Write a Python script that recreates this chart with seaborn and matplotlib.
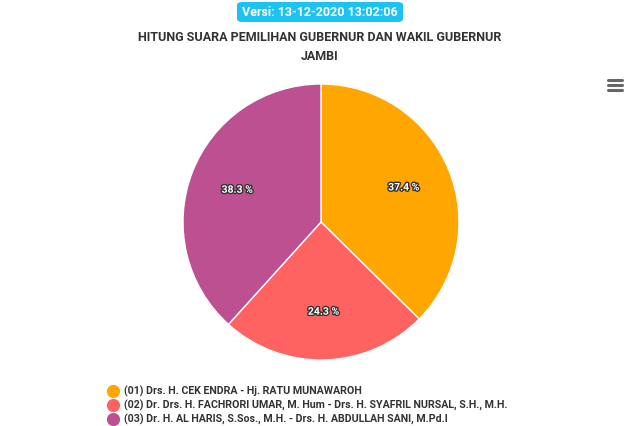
import matplotlib.pyplot as plt
import matplotlib.patheffects as pe
from matplotlib.lines import Line2D
from matplotlib.patches import FancyBboxPatch
import seaborn as sns

sns.set_theme(style="white")
plt.rcParams['font.family'] = ['Roboto', 'DejaVu Sans']

candidates = [
    "(01) Drs. H. CEK ENDRA - Hj. RATU MUNAWAROH",
    "(02) Dr. Drs. H. FACHRORI UMAR, M. Hum - Drs. H. SYAFRIL NURSAL, S.H., M.H.",
    "(03) Dr. H. AL HARIS, S.Sos., M.H. - Drs. H. ABDULLAH SANI, M.Pd.I",
]
shares = [37.4, 24.3, 38.3]
colors = sns.color_palette(["#FFA600", "#FF6361", "#BC5090"])

fig = plt.figure(figsize=(6.4, 4.26), dpi=100)
fig.patch.set_facecolor("white")

# pie
ax = fig.add_axes([(321 - 138) / 640, (426 - 360) / 426, 276 / 640, 276 / 426])
wedges, texts, autotexts = ax.pie(
    shares, colors=colors, startangle=90, counterclock=False,
    autopct=lambda p: f"{p:.1f} %", pctdistance=0.65,
    wedgeprops=dict(edgecolor="white", linewidth=1),
    textprops=dict(color="white", fontsize=7.5, fontweight="bold"))
for t in autotexts:
    t.set_path_effects([pe.withStroke(linewidth=2, foreground="#333333")])
ax.set_xlim(-1.0, 1.0)
ax.set_ylim(-1.0, 1.0)
ax.set_aspect("equal")
ax.axis("off")

# version badge
badge = FancyBboxPatch((237 / 640, (426 - 22) / 426), 166 / 640, 20 / 426,
                       boxstyle="round,pad=0,rounding_size=0.008",
                       transform=fig.transFigure, facecolor="#1CC3F2", edgecolor="none")
fig.add_artist(badge)
fig.text(320 / 640, 1 - 12 / 426, "Versi: 13-12-2020 13:02:06", ha="center", va="center",
         color="white", fontsize=9, fontweight="bold")

# title
fig.text(320 / 640, 1 - 47 / 426, "HITUNG SUARA PEMILIHAN GUBERNUR DAN WAKIL GUBERNUR\nJAMBI",
         ha="center", va="center", color="#333333", fontsize=9, fontweight="bold",
         linespacing=1.55)

# menu icon
for yy in (80, 85, 90):
    fig.add_artist(Line2D([608 / 640, 622 / 640], [1 - yy / 426] * 2,
                          transform=fig.transFigure, color="#666666", linewidth=2.2))

# legend
for i, (lab, c) in enumerate(zip(candidates, colors)):
    y = 1 - (391 + 14 * i) / 426
    fig.add_artist(Line2D([113 / 640], [y], marker="o", markersize=8.5, color=c,
                          transform=fig.transFigure, linestyle="none"))
    fig.text(124 / 640, y, lab, ha="left", va="center", color="#333333",
             fontsize=7.7, fontweight="bold")

fig.savefig("out.png", dpi=100)
